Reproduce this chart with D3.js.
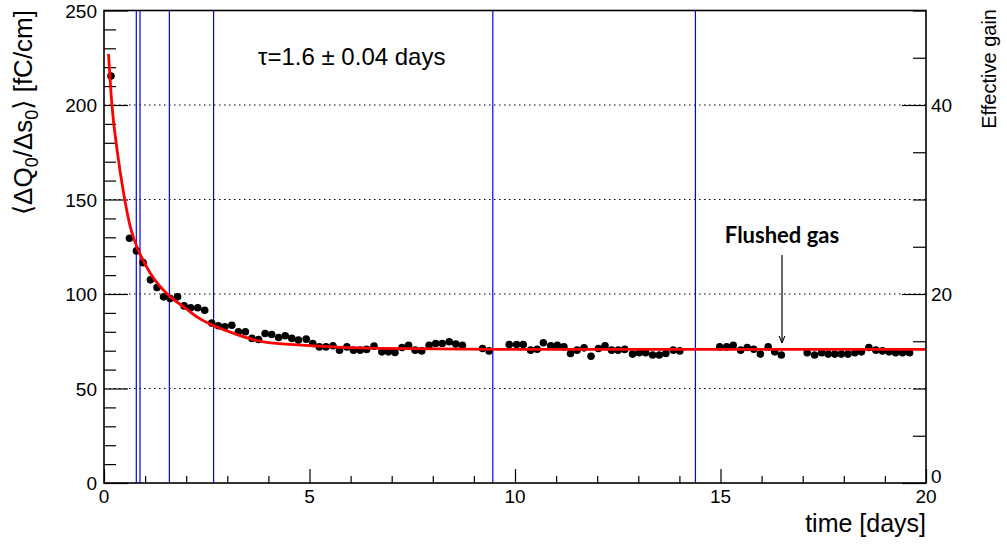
<!DOCTYPE html>
<html>
<head>
<meta charset="utf-8">
<script src="https://cdn.jsdelivr.net/npm/d3@7"></script>
<style>
  body { margin: 0; background: #fff; }
  svg { display: block; font-family: "Liberation Sans", Arial, sans-serif; }
</style>
</head>
<body>
<svg id="chart" width="1007" height="545"></svg>
<script>
// measured points, time in days and charge per length in fC/cm
const times = [0.17, 0.62, 0.79, 0.95, 1.13, 1.29, 1.45, 1.61, 1.79, 1.95, 2.11, 2.28, 2.45,
  2.62, 2.78, 2.94, 3.11, 3.27, 3.44, 3.6, 3.76, 3.92, 4.08, 4.25, 4.41, 4.57, 4.73, 4.92,
  5.08, 5.24, 5.4, 5.57, 5.73, 5.91, 6.07, 6.23, 6.39, 6.57, 6.76, 6.92, 7.08, 7.25, 7.41,
  7.57, 7.73, 7.91, 8.07, 8.23, 8.4, 8.56, 8.72, 9.21, 9.37, 9.86, 10.04, 10.2, 10.38,
  10.54, 10.69, 10.87, 11.03, 11.19, 11.35, 11.51, 11.68, 11.85, 12.03, 12.19, 12.35,
  12.51, 12.67, 12.86, 13.02, 13.18, 13.35, 13.51, 13.67, 13.85, 14.01, 14.98, 15.15,
  15.31, 15.49, 15.65, 15.81, 15.97, 16.16, 16.32, 16.48, 17.11, 17.29, 17.46, 17.62,
  17.78, 17.94, 18.1, 18.27, 18.43, 18.61, 18.78, 18.94, 19.1, 19.26, 19.43, 19.6];
const charge = [215.3, 129.5, 122.8, 116.6, 107.5, 103.4, 98.5, 97.6, 98.5, 93.7, 92.7, 92.7, 91.4,
  84.6, 83.2, 82.7, 83.5, 80, 80, 76.5, 75.9, 79.1, 78.6, 77, 77.9, 76.5, 75.6, 76.1,
  73.8, 72, 72, 72.6, 70.3, 72, 70.3, 70.3, 70.7, 72.4, 69.4, 69.4, 69.1, 71.7, 72.9,
  70.3, 69.9, 72.9, 73.8, 73.8, 74.7, 73.5, 72.9, 71.2, 69.9, 73.3, 73.3, 73.3, 70.3,
  70.8, 74.2, 72.6, 72.9, 72, 68.5, 70.3, 71.5, 67.1, 71.2, 72.6, 70.3,
  70.3, 70.7, 68.2, 68.9, 68.9, 67.7, 67.7, 68.5, 70.3, 69.9, 72, 72,
  72.9, 70.3, 71.7, 70.8, 68.2, 72, 69.4, 67.7, 68.9, 67.7, 68.9, 68.2,
  68.2, 68.2, 68.2, 68.9, 69.4, 71.7, 70.3, 69.9, 69.4, 68.9, 68.9, 68.9];

// fitted curve
const fitT = [0.11, 0.19, 0.32, 0.48, 0.64, 0.8, 0.95, 1.13, 1.61, 1.94, 2.26, 3.07, 3.88, 5.09, 6.72, 9.5, 20];
const fitV = [227, 200.7, 176, 153, 135.5, 124.9, 117.9, 110.8, 98.5, 93.2, 87.9, 79.8, 74.7, 72.6, 71.2, 70.7, 70.7];

// blue markers (days)
const markers = [0.786, 0.876, 1.59, 2.667, 9.46, 14.39];

const xTicks = [0, 5, 10, 15, 20];
const yTicks = [0, 50, 100, 150, 200, 250];
const gridVals = [50, 100, 150, 200];
const gainTicks = [0, 20, 40];

const svg = d3.select("#chart");
const padL = 104, padR = 926, padT = 10.5, padB = 483;

const x = d3.scaleLinear().domain([0, 20]).range([padL, padR]);
const y = d3.scaleLinear().domain([0, 250]).range([padB, padT]);
const yGain = d3.scaleLinear().domain([0, 50]).range([padB, padT]);

// dotted grid
svg.append("g").selectAll("line").data(gridVals).join("line")
  .attr("x1", padL).attr("x2", padR)
  .attr("y1", d => y(d)).attr("y2", d => y(d))
  .attr("stroke", "#000").attr("stroke-width", 1)
  .attr("stroke-dasharray", "1.5,3.5");

// left axis
const yAxis = d3.axisLeft(y).tickValues(d3.range(0, 251, 10))
  .tickSize(0).tickFormat("");
const gl = svg.append("g").attr("transform", `translate(${padL},0)`).call(yAxis);
gl.select(".domain").remove();
gl.selectAll(".tick line").attr("x2", d => d % 50 === 0 ? 24 : 12)
  .attr("stroke", "#000").attr("stroke-width", 1.2);
svg.append("g").selectAll("text").data(yTicks).join("text")
  .attr("x", 97).attr("y", d => y(d) + 7)
  .attr("text-anchor", "end").attr("font-size", 19)
  .text(d => d);

// bottom axis
const xAxis = d3.axisBottom(x).tickValues(d3.range(0, 21, 1)).tickSize(0).tickFormat("");
const gb = svg.append("g").attr("transform", `translate(0,${padB})`).call(xAxis);
gb.select(".domain").remove();
gb.selectAll(".tick line").attr("y2", d => d % 5 === 0 ? -14 : -7)
  .attr("stroke", "#000").attr("stroke-width", 1.2);
svg.append("g").selectAll("text").data(xTicks).join("text")
  .attr("x", d => x(d)).attr("y", 503)
  .attr("text-anchor", "middle").attr("font-size", 19)
  .text(d => d);

// right axis (effective gain)
const gAxis = d3.axisLeft(yGain).tickValues(d3.range(0, 51, 5)).tickSize(0).tickFormat("");
const gr = svg.append("g").attr("transform", `translate(${padR},0)`).call(gAxis);
gr.select(".domain").remove();
gr.selectAll(".tick line").attr("x2", d => d % 20 === 0 ? -24 : -13)
  .attr("stroke", "#000").attr("stroke-width", 1.2);
svg.append("g").selectAll("text").data(gainTicks).join("text")
  .attr("x", 931).attr("y", d => yGain(d) + (d === 0 ? 0 : 7))
  .attr("font-size", 19)
  .text(d => d);

// blue markers
svg.append("g").selectAll("line").data(markers).join("line")
  .attr("x1", d => x(d)).attr("x2", d => x(d))
  .attr("y1", padT).attr("y2", padB)
  .attr("stroke", "#0000ff").attr("stroke-width", 1.2);

// data points
svg.append("g").selectAll("circle").data(times).join("circle")
  .attr("cx", d => x(d)).attr("cy", (d, i) => y(charge[i]))
  .attr("r", 3.8).attr("fill", "#000");

// fit curve
const line = d3.line().x(d => x(d[0])).y(d => y(d[1])).curve(d3.curveMonotoneX);
svg.append("path").datum(fitT.map((t, i) => [t, fitV[i]]))
  .attr("d", line).attr("fill", "none")
  .attr("stroke", "#ff0000").attr("stroke-width", 2.8);

// frame
svg.append("rect").attr("x", padL).attr("y", padT)
  .attr("width", padR - padL).attr("height", padB - padT)
  .attr("fill", "none").attr("stroke", "#000").attr("stroke-width", 1.6);

// annotation
svg.append("text").attr("x", 258).attr("y", 65).attr("font-size", 24)
  .text("τ=1.6 ± 0.04 days");
svg.append("text").attr("x", 782).attr("y", 243).attr("text-anchor", "middle")
  .attr("font-family", "Lato, sans-serif").attr("font-weight", "bold").attr("font-size", 22)
  .text("Flushed gas");
svg.append("defs").append("marker").attr("id", "arr")
  .attr("viewBox", "0 0 10 10").attr("refX", 10).attr("refY", 5)
  .attr("markerWidth", 6).attr("markerHeight", 6).attr("orient", "auto")
  .append("path").attr("d", "M0,1 L10,5 L0,9").attr("fill", "none").attr("stroke", "#000").attr("stroke-width", 1.5);
svg.append("line").attr("x1", 782).attr("x2", 782).attr("y1", 255).attr("y2", 343)
  .attr("stroke", "#000").attr("stroke-width", 1.2).attr("marker-end", "url(#arr)");

// axis titles
const yl = svg.append("text").attr("transform", "translate(32,10) rotate(-90)")
  .attr("text-anchor", "end").attr("font-size", 26);
yl.append("tspan").attr("font-family", "DejaVu Sans").text("⟨");
yl.append("tspan").text("ΔQ");
yl.append("tspan").attr("font-size", 18).attr("dy", 6).text("0");
yl.append("tspan").attr("dy", -6).text("/Δs");
yl.append("tspan").attr("font-size", 18).attr("dy", 6).text("0");
yl.append("tspan").attr("dy", -6).attr("font-family", "DejaVu Sans").text("⟩");
yl.append("tspan").text(" [fC/cm]");

svg.append("text").attr("transform", "translate(996,9) rotate(-90)")
  .attr("text-anchor", "end").attr("font-size", 20)
  .text("Effective gain");

svg.append("text").attr("x", 926).attr("y", 532).attr("text-anchor", "end")
  .attr("font-size", 25).text("time [days]");
</script>
</body>
</html>
